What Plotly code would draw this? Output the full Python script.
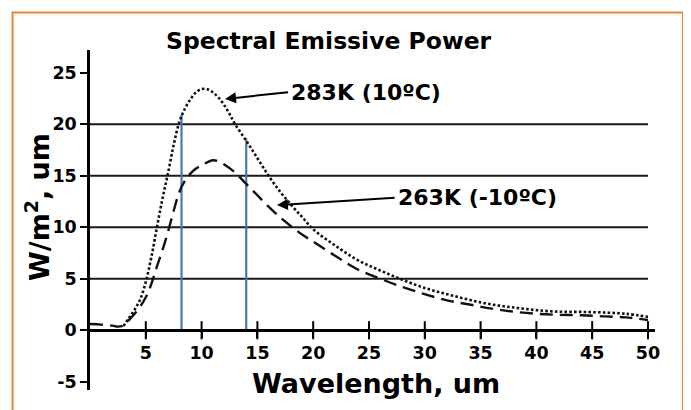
import plotly.graph_objects as go

# ---- data ----
wl_283 = [3, 3.5, 4, 4.5, 5, 5.5, 6, 6.5, 7, 7.5, 8, 8.5, 9, 9.5, 10, 10.5, 11, 11.5, 12, 12.5,
          13, 14, 15, 16, 17, 18, 19, 20, 22, 24, 26, 28, 30, 32, 34, 36, 38, 40, 42, 44, 46, 48, 50]
pw_283 = [0.4, 1.2, 2.0, 3.0, 4.7, 7.1, 10.0, 12.8, 15.3, 18.0, 20.2, 21.5, 22.4, 23.1, 23.4, 23.4, 23.1, 22.6, 21.9, 21.0,
          20.0, 18.4, 16.7, 15.0, 13.5, 12.2, 11.0, 9.8, 8.2, 6.8, 5.8, 4.9, 4.1, 3.5, 2.95, 2.5, 2.2, 1.95, 1.8, 1.78, 1.72, 1.6, 1.3]

wl_263 = [0, 1, 2, 2.5, 3, 3.5, 4, 4.5, 5, 5.5, 6, 6.5, 7, 7.5, 8, 8.5, 9, 9.5, 10, 10.5, 11, 11.5, 12,
          13, 14, 15, 16, 17, 18, 19, 20, 22, 24, 26, 28, 30, 32, 34, 36, 38, 40, 42, 44, 46, 48, 50]
pw_263 = [0.6, 0.55, 0.45, 0.35, 0.45, 1.0, 1.6, 2.3, 3.2, 4.5, 6.2, 7.8, 9.6, 11.6, 13.4, 14.5, 15.2, 15.7, 16.0, 16.3, 16.5, 16.4, 16.1,
          15.3, 14.2, 13.1, 12.0, 11.0, 10.1, 9.3, 8.6, 7.2, 5.9, 5.0, 4.2, 3.5, 2.9, 2.5, 2.1, 1.8, 1.6, 1.5, 1.45, 1.35, 1.25, 1.0]

band_x = [8.2, 14.0]
band_top = [20.9, 18.6]

x_ticks = [5, 10, 15, 20, 25, 30, 35, 40, 45, 50]
y_ticks = [-5, 0, 5, 10, 15, 20, 25]
y_tick_text = ["-5", "0", "5", "10", "15", "20", "25"]
grid_y = [0, 5, 10, 15, 20]
grid_xmax = 50

label_283 = "283K (10ºC)"
label_263 = "263K (-10ºC)"
title_text = "Spectral Emissive Power"
x_title = "Wavelength, um"
y_title = "W/m<sup>2</sup>, um"

# ---- layout geometry (page has an 8px body margin) ----
OFF = 8
W, H = 683, 402
ML, MT = 90 - OFF, 50 - OFF
MR = W - (655 - OFF)
MB = H - (390 - OFF)
XR = [0, 50.63]
YR = [-5.8, 27.2]
PW = W - ML - MR
PH = H - MT - MB

def px_x(p):  # page pixel -> paper x
    return (p - OFF - ML) / PW

def px_y(p):  # page pixel -> paper y
    return (H - MB - (p - OFF)) / PH

FONT = "DejaVu Sans"

fig = go.Figure()

# grid lines (0 to 50)
for gy in grid_y:
    fig.add_shape(type="line", xref="x", yref="y", x0=0, x1=grid_xmax, y0=gy, y1=gy,
                  line=dict(color="#1a1a1a", width=2), layer="below")

# blue band lines
for bx, bt in zip(band_x, band_top):
    fig.add_trace(go.Scatter(x=[bx, bx], y=[0, bt], mode="lines",
                             line=dict(color="#4a79ad", width=2.2), hoverinfo="skip"))

# curves
fig.add_trace(go.Scatter(x=wl_263, y=pw_263, mode="lines", line_shape="spline",
                         line=dict(color="#111111", width=2.4, dash="13px,7px"), hoverinfo="skip"))
fig.add_trace(go.Scatter(x=wl_283, y=pw_283, mode="lines", line_shape="spline",
                         line=dict(color="#111111", width=2.6, dash="2.6px,2.2px"), hoverinfo="skip"))

# crossing tick marks on x axis
fig.add_trace(go.Scatter(x=x_ticks, y=[0] * len(x_ticks), mode="markers",
                         marker=dict(symbol="line-ns", size=13, line=dict(color="black", width=2)),
                         hoverinfo="skip"))

# labels with arrows (text box left edge at the arrow tail)
lab_font = dict(family=FONT, size=22, color="black", weight="bold")
fig.add_annotation(x=12.1, y=22.45, ax=17.75, ay=23.1, axref="x", ayref="y", xref="x", yref="y",
                   text=label_283, xanchor="left", yanchor="middle", borderpad=2,
                   showarrow=True, arrowhead=2, arrowsize=1.1, arrowwidth=2, arrowcolor="black",
                   font=lab_font)
fig.add_annotation(x=16.75, y=12.15, ax=27.3, ay=12.85, axref="x", ayref="y", xref="x", yref="y",
                   text=label_263, xanchor="left", yanchor="middle", borderpad=2,
                   showarrow=True, arrowhead=2, arrowsize=1.1, arrowwidth=2, arrowcolor="black",
                   font=lab_font)

# titles
fig.add_annotation(x=px_x(329), y=px_y(41), xref="paper", yref="paper", text=title_text,
                   showarrow=False, xanchor="center", yanchor="middle",
                   font=dict(family=FONT, size=23.5, color="black", weight="bold"))
fig.add_annotation(x=px_x(376), y=px_y(383), xref="paper", yref="paper", text=x_title,
                   showarrow=False, xanchor="center", yanchor="middle",
                   font=dict(family=FONT, size=27, color="black", weight="bold"))
fig.add_annotation(x=px_x(37), y=px_y(207), xref="paper", yref="paper", text=y_title,
                   showarrow=False, xanchor="center", yanchor="middle", textangle=-90,
                   font=dict(family=FONT, size=27, color="black", weight="bold"))

# orange frame
fig.add_shape(type="rect", xref="paper", yref="paper",
              x0=px_x(12.5), x1=px_x(683), y0=px_y(420), y1=px_y(12.5),
              line=dict(color="#ee8433", width=2), fillcolor="rgba(0,0,0,0)")

xpos = (0 - YR[0]) / (YR[1] - YR[0])

fig.update_layout(
    width=W, height=H, margin=dict(l=ML, r=MR, t=MT, b=MB),
    paper_bgcolor="white", plot_bgcolor="white", showlegend=False,
    xaxis=dict(range=XR, anchor="free", position=xpos, showgrid=False, zeroline=False,
               showline=True, linecolor="black", linewidth=2.5, automargin=False,
               tickvals=x_ticks, ticks="outside", ticklen=6, tickwidth=2, tickcolor="black",
               tickfont=dict(family=FONT, size=17.5, color="black", weight="bold")),
    yaxis=dict(range=YR, showgrid=False, zeroline=False, automargin=False,
               showline=True, linecolor="black", linewidth=2.5,
               tickvals=y_ticks, ticktext=y_tick_text, ticks="outside", ticklen=7, tickwidth=2,
               tickcolor="black",
               tickfont=dict(family=FONT, size=17.5, color="black", weight="bold")),
)

fig.write_html("out.html")
